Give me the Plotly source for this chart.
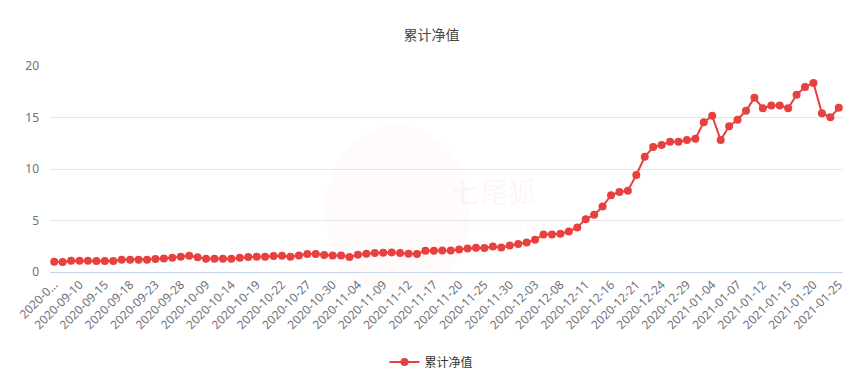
import plotly.graph_objects as go

dates = [
    "2020-09-07", "2020-09-08", "2020-09-09", "2020-09-10", "2020-09-11", "2020-09-14",
    "2020-09-15", "2020-09-16", "2020-09-17", "2020-09-18", "2020-09-21", "2020-09-22",
    "2020-09-23", "2020-09-24", "2020-09-25", "2020-09-28", "2020-09-29", "2020-09-30",
    "2020-10-09", "2020-10-12", "2020-10-13", "2020-10-14", "2020-10-15", "2020-10-16",
    "2020-10-19", "2020-10-20", "2020-10-21", "2020-10-22", "2020-10-23", "2020-10-26",
    "2020-10-27", "2020-10-28", "2020-10-29", "2020-10-30", "2020-11-02", "2020-11-03",
    "2020-11-04", "2020-11-05", "2020-11-06", "2020-11-09", "2020-11-10", "2020-11-11",
    "2020-11-12", "2020-11-13", "2020-11-16", "2020-11-17", "2020-11-18", "2020-11-19",
    "2020-11-20", "2020-11-23", "2020-11-24", "2020-11-25", "2020-11-26", "2020-11-27",
    "2020-11-30", "2020-12-01", "2020-12-02", "2020-12-03", "2020-12-04", "2020-12-07",
    "2020-12-08", "2020-12-09", "2020-12-10", "2020-12-11", "2020-12-14", "2020-12-15",
    "2020-12-16", "2020-12-17", "2020-12-18", "2020-12-21", "2020-12-22", "2020-12-23",
    "2020-12-24", "2020-12-25", "2020-12-28", "2020-12-29", "2020-12-30", "2020-12-31",
    "2021-01-04", "2021-01-05", "2021-01-06", "2021-01-07", "2021-01-08", "2021-01-11",
    "2021-01-12", "2021-01-13", "2021-01-14", "2021-01-15", "2021-01-18", "2021-01-19",
    "2021-01-20", "2021-01-21", "2021-01-22", "2021-01-25",
]

nav = [
    1.00, 0.97, 1.09, 1.09, 1.09, 1.06, 1.06, 1.06, 1.19, 1.19,
    1.19, 1.19, 1.26, 1.32, 1.38, 1.48, 1.58, 1.42, 1.29, 1.29,
    1.29, 1.29, 1.38, 1.45, 1.48, 1.48, 1.55, 1.58, 1.48, 1.61,
    1.74, 1.74, 1.64, 1.61, 1.61, 1.45, 1.67, 1.77, 1.84, 1.87,
    1.90, 1.84, 1.77, 1.74, 2.06, 2.06, 2.09, 2.09, 2.19, 2.29,
    2.35, 2.33, 2.48, 2.38, 2.58, 2.71, 2.87, 3.13, 3.64, 3.64,
    3.71, 3.93, 4.32, 5.13, 5.55, 6.35, 7.45, 7.77, 7.90, 9.42,
    11.19, 12.13, 12.32, 12.65, 12.65, 12.81, 12.94, 14.55, 15.16, 12.81,
    14.16, 14.78, 15.65, 16.91, 15.90, 16.16, 16.16, 15.90, 17.20, 17.97,
    18.36, 15.42, 15.03, 15.94,
]

series_name = "累计净值"
title_text = "累计净值"
y_ticks = [0, 5, 10, 15, 20]

tick_vals = dates[::3]
tick_text = [d for d in tick_vals]
tick_text[0] = "2020-0..."

fig = go.Figure()
fig.add_trace(go.Scatter(
    x=dates, y=nav, mode="lines+markers", name=series_name,
    line=dict(color="#e8403f", width=2),
    marker=dict(color="#e8403f", size=8),
))

# faint watermark
fig.add_shape(type="circle", xref="paper", yref="paper",
              x0=(325 - 50) / 793, x1=(470 - 50) / 793,
              y0=(272.3 - 295) / 206.6, y1=(272.3 - 125) / 206.6,
              line=dict(width=0), fillcolor="rgba(232,64,63,0.02)", layer="below")
fig.add_annotation(text="七尾狐", x=0.56, y=(272.3 - 213) / 206.6, yanchor="bottom",
                   xref="paper", yref="paper", showarrow=False,
                   font=dict(size=28, color="rgba(232,64,63,0.06)", family="Noto Sans CJK SC"))
fig.add_annotation(text="SEVEN FOXES", x=0.56, y=(272.3 - 216) / 206.6, yanchor="top",
                   xref="paper", yref="paper", showarrow=False,
                   font=dict(size=12, color="rgba(232,64,63,0.05)", family="Noto Sans"))

fig.update_layout(
    width=863, height=386,
    paper_bgcolor="white", plot_bgcolor="white",
    margin=dict(l=50, r=20, t=66, b=114, autoexpand=False),
    font=dict(family="Noto Sans CJK SC, Noto Sans, sans-serif", color="#6E7079", size=12),
    title=dict(text=title_text, x=0.5, xanchor="center", xref="container",
               y=1 - 35 / 386, yref="container", yanchor="middle",
               font=dict(size=14, color="#464646")),
    showlegend=True,
    legend=dict(orientation="h", x=0.5, xanchor="center", xref="container",
                y=1 - 362 / 386, yref="container", yanchor="middle",
                font=dict(size=12, color="#333333"), itemwidth=30),
    xaxis=dict(
        type="category", tickmode="array", tickvals=tick_vals, ticktext=tick_text,
        range=[-0.5, len(dates) - 0.5], autorange=False,
        tickangle=-45, showgrid=False, showline=True, linecolor="#c6d4ea", linewidth=1,
        ticks="", tickfont=dict(size=12, color="#6E7079", family="Noto Sans"),
        zeroline=False, automargin=False,
    ),
    yaxis=dict(
        range=[0, 20], tickvals=y_ticks, showgrid=True, gridcolor="#e6e6e6",
        zeroline=False, showline=False, ticks="", ticklabelstandoff=10,
        tickfont=dict(size=12, color="#6E7079", family="Noto Sans"),
        automargin=False,
    ),
)

fig.write_html("out.html", config={"displayModeBar": False},
               post_script="document.body.style.margin='0';")
